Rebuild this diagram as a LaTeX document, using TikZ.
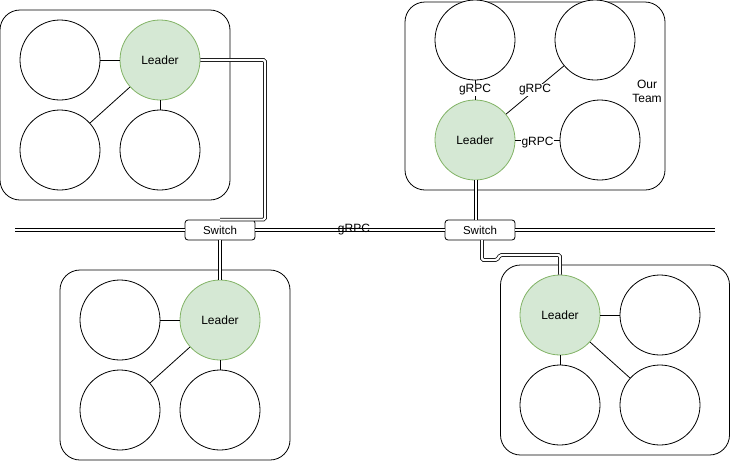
\documentclass[tikz,border=0pt]{standalone}
\usepackage{fontspec}
\setmainfont{Liberation Sans}
\definecolor{lfill}{HTML}{D5E8D4}
\definecolor{ldraw}{HTML}{82B366}
\begin{document}
\begin{tikzpicture}[x=1pt,y=-1pt,
  font=\fontsize{12}{14}\selectfont,
  cir/.style={circle, draw, minimum size=80pt, inner sep=0pt, line width=0.8pt, fill=white},
  leader/.style={cir, fill=lfill, draw=ldraw},
  teambox/.style={draw, rounded corners=20pt, line width=0.8pt, inner sep=0pt},
  switchbox/.style={draw, rounded corners=3pt, fill=white, minimum width=70pt, minimum height=20pt, inner sep=0pt, line width=0.8pt, font=\fontsize{11.5}{13}\selectfont},
  link/.style={double, double distance=2.2pt, line width=0.75pt},
  plain/.style={line width=0.8pt},
  lbl/.style={font=\fontsize{12}{14}\selectfont, inner sep=1pt}
]
\useasboundingbox (0,0) rectangle (731,461);

% team boxes
\node[teambox, minimum width=230pt, minimum height=190pt] (boxA) at (115,105) {};
\node[teambox, minimum width=260pt, minimum height=188pt] (boxB) at (535,96) {};
\node[teambox, minimum width=230pt, minimum height=190pt] (boxC) at (175,365) {};
\node[teambox, minimum width=229pt, minimum height=190pt] (boxD) at (615,360) {};

% team A (top left)
\node[cir] (a1) at (60,60) {};
\node[leader] (L1) at (160,60) {Leader};
\node[cir] (a2) at (60,150) {};
\node[cir] (a3) at (160,150) {};
\draw[plain] (a1) -- (L1);
\draw[plain] (L1) -- (a2);
\draw[plain] (L1) -- (a3);

% team B (top right, our team)
\node[cir] (b1) at (475,40) {};
\node[cir] (b2) at (595,40) {};
\node[leader] (L2) at (475,140) {Leader};
\node[cir] (b3) at (600,140) {};
\node[align=center, lbl] (ourteam) at (647,91) {Our\\Team};
\draw[plain] (b1) -- node[lbl, fill=white, inner sep=0.5pt] {gRPC} (L2);
\draw[plain] (L2) -- node[lbl, fill=white, inner sep=0.5pt] {gRPC} (b2);
\draw[plain] (L2) -- node[lbl, fill=white, inner sep=0.5pt, yshift=-3pt] {gRPC} (b3);

% team C (bottom left)
\node[cir] (c1) at (120,320) {};
\node[leader] (L3) at (220,320) {Leader};
\node[cir] (c2) at (120,410) {};
\node[cir] (c3) at (220,410) {};
\draw[plain] (c1) -- (L3);
\draw[plain] (L3) -- (c2);
\draw[plain] (L3) -- (c3);

% team D (bottom right)
\node[leader] (L4) at (560,315) {Leader};
\node[cir] (d1) at (660,315) {};
\node[cir] (d2) at (560,405) {};
\node[cir] (d3) at (660,405) {};
\draw[plain] (L4) -- (d1);
\draw[plain] (L4) -- (d2);
\draw[plain] (L4) -- (d3);

% backbone
\coordinate (bbL) at (15,230);
\coordinate (bbR) at (715,230);
\node[switchbox] (sw1) at (220,230) {Switch};
\node[switchbox] (sw2) at (480,230) {Switch};
\draw[link] (bbL) -- (sw1.west);
\draw[link] (sw1.east) -- (sw2.west);
\node[lbl] (grpcbb) at (354,230) {gRPC};
\draw[link] (sw2.east) -- (bbR);

% leader uplinks
\draw[link, rounded corners=1.5pt] (L1.east) -- (265,60) |- (sw1.north);
\draw[link] (L2.south -| 476,0) -- (476,220);
\draw[link] (L3.north) -- (L3.north |- sw1.south);
\draw[link, rounded corners=1.5pt] (482,240) -- ++(0,20) -- ++(15,0) -- ++(3,-5) -- (L4.north |- 0,255) -- (L4.north);
\end{tikzpicture}
\end{document}
